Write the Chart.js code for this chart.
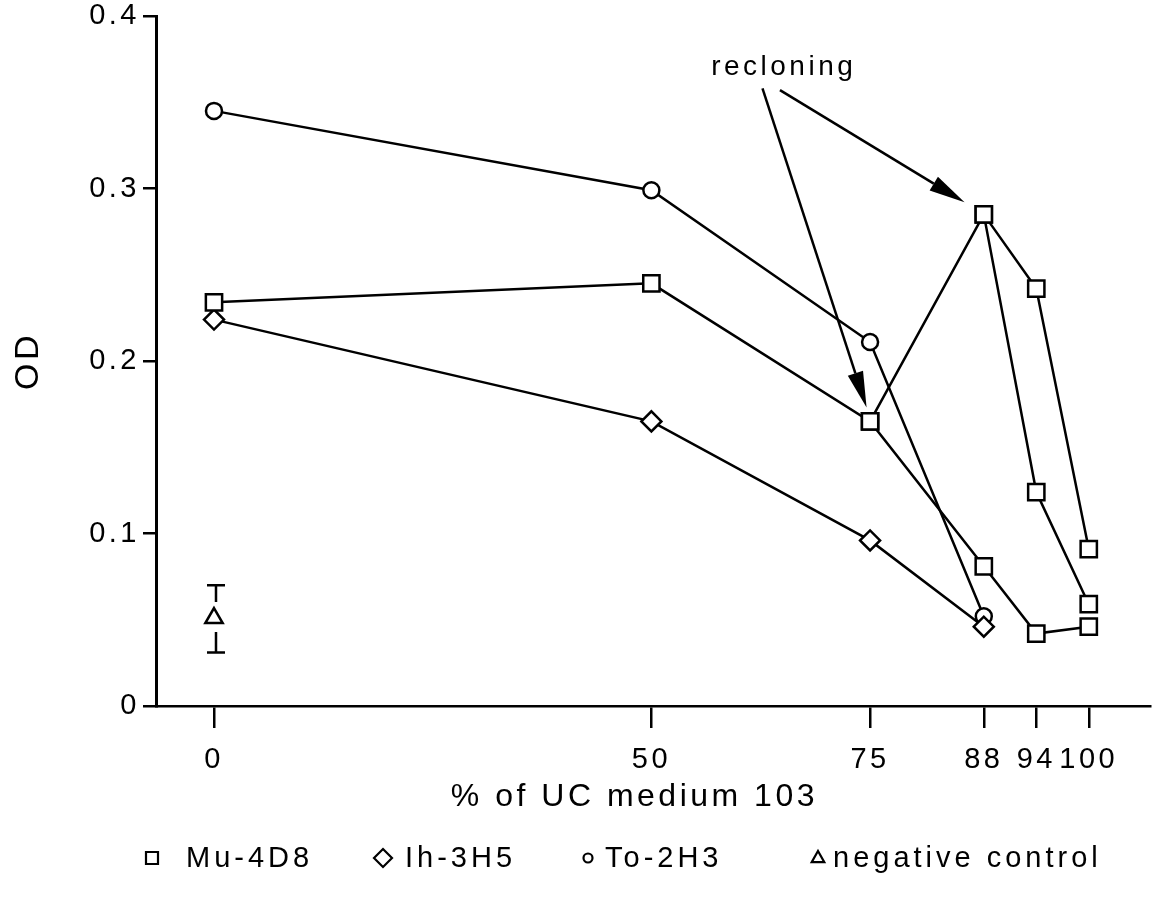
<!DOCTYPE html>
<html lang="en">
<head>
  <meta charset="UTF-8">
  <title>OD vs % of UC medium 103</title>
  <script src="https://cdn.jsdelivr.net/npm/chart.js"></script>
  <style>
    html, body { margin: 0; padding: 0; background: #fff; }
    #wrap { width: 1152px; height: 897px; }
  </style>
</head>
<body>
  <div id="wrap"><canvas id="odChart"></canvas></div>
  <script>
    // values
    const xTicks = [0, 50, 75, 88, 94, 100];
    const muX = [0, 50, 75, 88, 94, 100];
    const mu4d8 = [0.234, 0.245, 0.165, 0.081, 0.042, 0.046];
    const muReclone1X = [75, 88, 94, 100];
    const mu4d8Reclone1 = [0.165, 0.285, 0.124, 0.059];
    const muReclone2X = [88, 94, 100];
    const mu4d8Reclone2 = [0.285, 0.242, 0.091];
    const ihX = [0, 50, 75, 88];
    const ih3h5 = [0.224, 0.165, 0.096, 0.046];
    const toX = [0, 50, 75, 88];
    const to2h3 = [0.345, 0.299, 0.211, 0.052];
    const negX = [0];
    const negControl = [0.051];
    const negLow = [0.031];
    const negHigh = [0.070];
    const legendLabels = ['Mu-4D8', 'Ih-3H5', 'To-2H3', 'negative control'];
    const legendStyles = ['rect', 'rectRot', 'circle', 'triangle'];

    // "recloning" note, in data units
    const noteText = 'recloning';
    const noteAt = [64.9, 0.370];
    const arrowFrom = [[62.7, 0.358], [64.7, 0.357]];
    const arrowTo = [[74.6, 0.173], [85.8, 0.292]];

    const FONT = "'Liberation Sans', Arial, sans-serif";
    const SPACING = '3.5px';

    const pts = (xs, ys) => xs.map((x, i) => ({ x, y: ys[i] }));

    const base = {
      showLine: true,
      borderColor: '#000',
      borderWidth: 2.5,
      pointBorderColor: '#000',
      pointBackgroundColor: '#fff',
      pointBorderWidth: 2.5,
      pointHoverRadius: 0
    };

    function marker(ctx, style, x, y, r) {
      ctx.beginPath();
      if (style === 'rect') {
        ctx.rect(x - r, y - r, 2 * r, 2 * r);
      } else if (style === 'rectRot') {
        ctx.moveTo(x, y - r); ctx.lineTo(x + r, y); ctx.lineTo(x, y + r); ctx.lineTo(x - r, y); ctx.closePath();
      } else if (style === 'circle') {
        ctx.arc(x, y, r, 0, Math.PI * 2);
      } else {
        ctx.moveTo(x, y - r); ctx.lineTo(x + r * 0.9, y + r * 0.6); ctx.lineTo(x - r * 0.9, y + r * 0.6); ctx.closePath();
      }
      ctx.fillStyle = '#fff';
      ctx.fill();
      ctx.stroke();
    }

    const spacingPlugin = {
      id: 'spacing',
      beforeUpdate(chart) { chart.ctx.letterSpacing = SPACING; },
      beforeLayout(chart) { chart.ctx.letterSpacing = SPACING; },
      beforeDraw(chart) { chart.ctx.letterSpacing = SPACING; }
    };

    const errorBarPlugin = {
      id: 'errorBars',
      beforeDatasetsDraw(chart) {
        const { ctx, scales: { x, y } } = chart;
        ctx.save();
        ctx.strokeStyle = '#000';
        ctx.lineWidth = 2.5;
        negX.forEach((v, i) => {
          const px = x.getPixelForValue(v) + 2;
          const yHi = y.getPixelForValue(negHigh[i]);
          const yLo = y.getPixelForValue(negLow[i]);
          const yMid = y.getPixelForValue(negControl[i]);
          ctx.beginPath();
          ctx.moveTo(px - 9, yHi); ctx.lineTo(px + 9, yHi);
          ctx.moveTo(px, yHi); ctx.lineTo(px, yMid - 16);
          ctx.moveTo(px, yMid + 14); ctx.lineTo(px, yLo);
          ctx.moveTo(px - 9, yLo); ctx.lineTo(px + 9, yLo);
          ctx.stroke();
        });
        ctx.restore();
      }
    };

    const notePlugin = {
      id: 'notes',
      afterDatasetsDraw(chart) {
        const { ctx, scales: { x, y } } = chart;
        ctx.save();
        ctx.letterSpacing = SPACING;
        ctx.fillStyle = '#000';
        ctx.strokeStyle = '#000';
        ctx.font = '28px ' + FONT;
        ctx.textAlign = 'center';
        ctx.textBaseline = 'middle';
        ctx.fillText(noteText, x.getPixelForValue(noteAt[0]) + 2, y.getPixelForValue(noteAt[1]));

        ctx.lineWidth = 2.5;
        arrowFrom.forEach((from, i) => {
          const x1 = x.getPixelForValue(from[0]), y1 = y.getPixelForValue(from[1]);
          const x2 = x.getPixelForValue(arrowTo[i][0]), y2 = y.getPixelForValue(arrowTo[i][1]);
          const ang = Math.atan2(y2 - y1, x2 - x1);
          const len = 36, half = 8;
          const bx = x2 - Math.cos(ang) * len, by = y2 - Math.sin(ang) * len;
          ctx.beginPath();
          ctx.moveTo(x1, y1);
          ctx.lineTo(bx, by);
          ctx.stroke();
          ctx.beginPath();
          ctx.moveTo(x2, y2);
          ctx.lineTo(bx + Math.sin(ang) * half, by - Math.cos(ang) * half);
          ctx.lineTo(bx - Math.sin(ang) * half, by + Math.cos(ang) * half);
          ctx.closePath();
          ctx.fill();
        });
        ctx.restore();
      }
    };

    // legend row under the axis title
    const legendPlugin = {
      id: 'bottomLegend',
      afterDraw(chart) {
        const ctx = chart.ctx;
        const markerX = [152, 383, 588, 818];
        const textX = [186, 405, 605, 833];
        const sizes = [6, 9, 4.5, 7];
        const ly = 858;
        ctx.save();
        ctx.letterSpacing = '4px';
        ctx.strokeStyle = '#000';
        ctx.lineWidth = 2.2;
        ctx.font = '29px ' + FONT;
        ctx.textBaseline = 'middle';
        legendLabels.forEach((label, i) => {
          marker(ctx, legendStyles[i], markerX[i], ly, sizes[i]);
          ctx.fillStyle = '#000';
          ctx.textAlign = 'left';
          ctx.fillText(label, textX[i], ly + 1);
        });
        ctx.restore();
      }
    };

    new Chart(document.getElementById('odChart'), {
      type: 'scatter',
      data: {
        datasets: [
          { ...base, label: 'Mu-4D8', data: pts(muX, mu4d8), pointStyle: 'rect', pointRadius: 11.5 },
          { ...base, label: 'Mu-4D8 recloned (75)', data: pts(muReclone1X, mu4d8Reclone1), pointStyle: 'rect', pointRadius: 11.5 },
          { ...base, label: 'Mu-4D8 recloned (88)', data: pts(muReclone2X, mu4d8Reclone2), pointStyle: 'rect', pointRadius: 11.5 },
          { ...base, label: 'Ih-3H5', data: pts(ihX, ih3h5), pointStyle: 'rectRot', pointRadius: 10 },
          { ...base, label: 'To-2H3', data: pts(toX, to2h3), pointStyle: 'circle', pointRadius: 8 },
          { ...base, label: 'negative control', data: pts(negX, negControl), pointStyle: 'triangle', pointRadius: 10, showLine: false }
        ]
      },
      options: {
        responsive: true,
        maintainAspectRatio: false,
        animation: false,
        layout: { autoPadding: false, padding: { top: 16, right: 2, left: 0, bottom: 0 } },
        plugins: { legend: { display: false }, tooltip: { enabled: false } },
        scales: {
          x: {
            type: 'linear',
            min: -6.63,
            max: 107,
            afterBuildTicks: s => { s.ticks = xTicks.map(v => ({ value: v })); },
            afterFit: s => { s.height = 191; s.paddingLeft = 0; s.paddingRight = 0; },
            grid: { drawOnChartArea: false, drawTicks: true, tickLength: 22, color: '#000', lineWidth: 2.5 },
            border: { display: true, color: '#000', width: 2.5 },
            ticks: { color: '#000', font: { family: FONT, size: 29 }, padding: 15, maxRotation: 0, autoSkip: false },
            title: {
              display: true,
              text: '% of UC medium 103\u00a0\u00a0\u00a0',
              color: '#000',
              font: { family: FONT, size: 32 },
              padding: { top: 0, bottom: 81 }
            }
          },
          y: {
            min: 0,
            max: 0.4,
            afterFit: s => { s.width = 156; s.paddingTop = 0; s.paddingBottom = 0; },
            grid: { drawOnChartArea: false, drawTicks: true, tickLength: 13, color: '#000', lineWidth: 2.5 },
            border: { display: true, color: '#000', width: 3 },
            ticks: {
              stepSize: 0.1,
              color: '#000',
              font: { family: FONT, size: 29 },
              padding: 3,
              callback: v => v === 0 ? '0' : v.toFixed(1)
            },
            title: { display: true, text: 'OD', color: '#000', font: { family: FONT, size: 34 }, padding: { top: 8, bottom: 0 } }
          }
        }
      },
      plugins: [spacingPlugin, errorBarPlugin, notePlugin, legendPlugin]
    });
  </script>
</body>
</html>
